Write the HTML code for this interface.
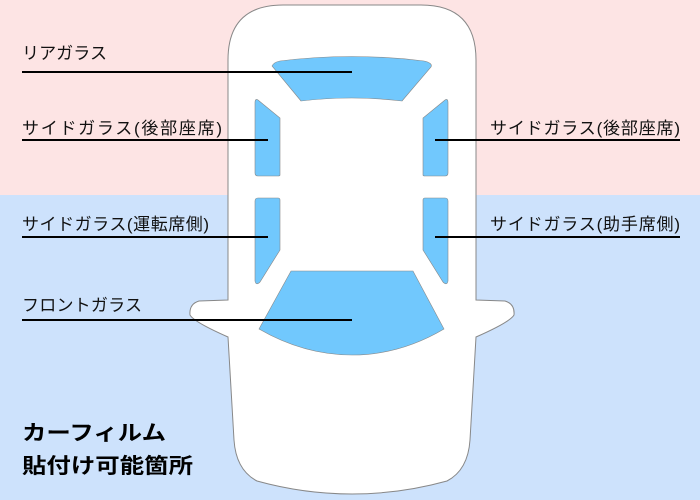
<!DOCTYPE html>
<html><head><meta charset="utf-8"><style>
body{margin:0;width:700px;height:500px;overflow:hidden;font-family:"Liberation Sans","Noto Sans CJK JP",sans-serif}
</style></head><body>
<svg width="700" height="500" xmlns="http://www.w3.org/2000/svg" style="display:block">
<rect x="0" y="0" width="700" height="195" fill="#fde4e4"/>
<rect x="0" y="195" width="700" height="305" fill="#cde2fc"/>
<path d="M228,60 Q228,5 283,5 L421,5 Q476,5 476,60 L476,300 L505,301 Q515,304 514,315 Q510,322 476,337 L470,440 Q468,470 447,481 Q400,494 352,494 Q304,494 257,481 Q236,470 234,440 L228,337 Q194,322 190,315 Q189,304 199,301 L228,300 Z" fill="#fff" stroke="#888" stroke-width="1"/>
<path d="M272,66 Q274,62 280,61 Q352,52 424,61 Q433,63 431,67 L402,101 Q352,95 301,101 Z" fill="#71c8fd" stroke="#888" stroke-width="0.6"/>
<path d="M258,100 L280,118 L280,175 Q280,176 278,176 L258,176 Q255,176 255,173 L255,103 Q255,98 258,100 Z" fill="#71c8fd" stroke="#888" stroke-width="0.6"/>
<path d="M445,100 L423,118 L423,175 Q423,176 425,176 L445,176 Q448,176 448,173 L448,103 Q448,98 445,100 Z" fill="#71c8fd" stroke="#888" stroke-width="0.6"/>
<path d="M258,198 L278,198 Q280,198 280,200 L280,250 L260,282 Q256,286 255,281 L255,201 Q255,198 258,198 Z" fill="#71c8fd" stroke="#888" stroke-width="0.6"/>
<path d="M445,198 L425,198 Q423,198 423,200 L423,250 L443,282 Q447,286 448,281 L448,201 Q448,198 445,198 Z" fill="#71c8fd" stroke="#888" stroke-width="0.6"/>
<path d="M291,271 L413,271 L444,329 Q400,355 352,355 Q304,355 259,329 Z" fill="#71c8fd" stroke="#888" stroke-width="0.6"/>
<g stroke="#000" stroke-width="2">
<line x1="22" y1="72" x2="352" y2="72"/>
<line x1="22" y1="140" x2="268" y2="140"/>
<line x1="435" y1="140" x2="680" y2="140"/>
<line x1="22" y1="237" x2="268" y2="237"/>
<line x1="435" y1="237" x2="680" y2="237"/>
<line x1="22" y1="320" x2="352" y2="320"/>
</g>
<g font-size="17" fill="#111" font-family="Liberation Sans, Noto Sans CJK JP, sans-serif" lengthAdjust="spacingAndGlyphs">
<text x="22" y="59" textLength="85">リアガラス</text>
<text x="22" y="134" textLength="200">サイドガラス(後部座席)</text>
<text x="490" y="134" textLength="190">サイドガラス(後部座席)</text>
<text x="22" y="230" textLength="187">サイドガラス(運転席側)</text>
<text x="490" y="230" textLength="190">サイドガラス(助手席側)</text>
<text x="22" y="311" textLength="120">フロントガラス</text>
</g>
<g font-size="21" font-weight="bold" fill="#000" font-family="Liberation Sans, Noto Sans CJK JP, sans-serif">
<text x="22" y="440" textLength="144" lengthAdjust="spacingAndGlyphs">カーフィルム</text>
<text x="22" y="473" textLength="171" lengthAdjust="spacingAndGlyphs">貼付け可能箇所</text>
</g>
</svg>
</body></html>
